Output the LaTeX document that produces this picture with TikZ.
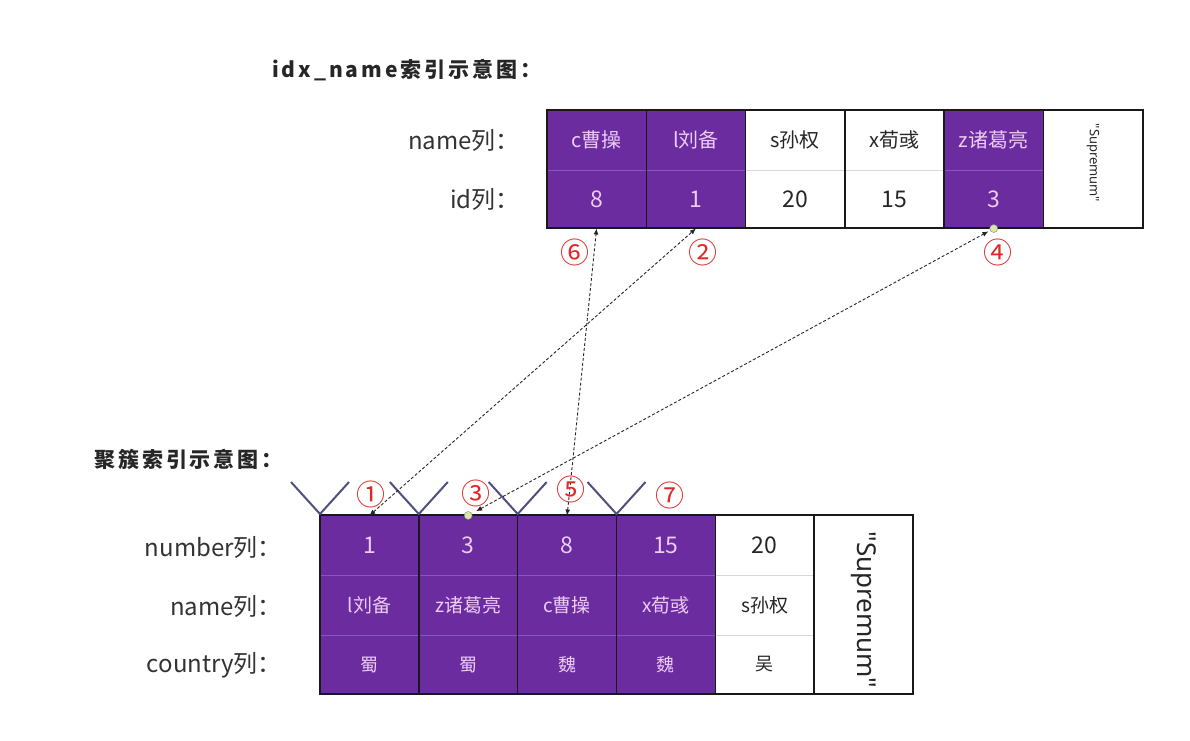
\documentclass[tikz,border=0pt]{standalone}
\usepackage{fontspec}
\setmainfont{Noto Sans CJK SC}
\newfontfamily\titlefont{Noto Sans CJK SC}[LetterSpace=14]
\newfontfamily\latinfont{Noto Sans}
\usetikzlibrary{arrows.meta}
\definecolor{pur}{HTML}{6A2C9E}
\definecolor{ptext}{HTML}{ECCBF5}
\definecolor{pdiv}{HTML}{8458BC}
\definecolor{vcol}{HTML}{4F4F80}
\definecolor{circred}{HTML}{E02828}
\definecolor{lblcol}{HTML}{333333}
\definecolor{gdot}{HTML}{D9E6A6}
\newcommand\myfs[1]{\fontsize{#1}{#1}\selectfont}
\begin{document}
\begin{tikzpicture}[x=1pt,y=-1pt,
  cellbase/.style={minimum width=99.2pt, minimum height=59pt, inner sep=0pt, outer sep=0pt},
  pcell/.style={cellbase, fill=pur, text=ptext},
  wcell/.style={cellbase, fill=white, text=black!85},
  lbl/.style={anchor=east, text=lblcol, font=\myfs{24}, inner sep=0pt},
  circ/.style={text=circred, font=\myfs{29}, inner sep=0pt},
  conn/.style={densely dashed, line width=0.9pt, black!85, {Latex[length=6pt,width=5pt]}-{Latex[length=6pt,width=5pt]}},
  vline/.style={vcol, line width=2pt},
  gdotst/.style={circle, fill=gdot, draw=black!50, line width=0.4pt, inner sep=0pt, minimum size=8pt},
  ttl/.style={anchor=west, inner sep=0pt, font=\titlefont\bfseries\myfs{21}, text=black!85}
]
\useasboundingbox (0,0) rectangle (1190,740);

% titles
\node[ttl] (title1) at (272,70) {idx\_name索引示意图：};
\node[ttl] (title2) at (94,459) {聚簇索引示意图：};

% ---------- top table ----------
\node[pcell, font=\myfs{20}] (tn1) at (596.6,140) {c曹操};
\node[pcell, font=\myfs{20}] (tn2) at (695.9,140) {l刘备};
\node[wcell, font=\myfs{20}] (tn3) at (795.2,140) {s孙权};
\node[wcell, font=\myfs{20}] (tn4) at (894.4,140) {x荀彧};
\node[pcell, font=\myfs{20}] (tn5) at (993.7,140) {z诸葛亮};
\node[pcell, font=\myfs{23}] (ti1) at (596.6,199) {8};
\node[pcell, font=\myfs{23}] (ti2) at (695.9,199) {1};
\node[wcell, font=\myfs{23}] (ti3) at (795.2,199) {20};
\node[wcell, font=\myfs{23}] (ti4) at (894.4,199) {15};
\node[pcell, font=\myfs{23}] (ti5) at (993.7,199) {3};
\node[rotate=-90, font=\latinfont\myfs{13}, text=black!85, inner sep=0pt] (tsup) at (1093,163) {"Supremum"};

\draw[pdiv, line width=0.8pt] (547,170) -- (745.5,170) (944,170) -- (1043.4,170);
\draw[black!15, line width=0.8pt] (745.5,170) -- (944,170);
\draw[black!90, line width=1.5pt] (646.3,110) -- (646.3,228) (745.5,110) -- (745.5,228)
  (844.8,110) -- (844.8,228) (944,110) -- (944,228) (1043.4,110) -- (1043.4,228);
\draw[black!90, line width=2pt] (547,110) rectangle (1142.6,228);

\node[lbl] (lname1) at (520,140) {name列：};
\node[lbl] (lid1) at (520,199) {id列：};

% ---------- bottom table ----------
\node[pcell, font=\myfs{23}] (bn1) at (369.4,545) {1};
\node[pcell, font=\myfs{23}] (bn2) at (468.2,545) {3};
\node[pcell, font=\myfs{23}] (bn3) at (567.1,545) {8};
\node[pcell, font=\myfs{23}] (bn4) at (665.9,545) {15};
\node[wcell, font=\myfs{23}] (bn5) at (764.7,545) {20};
\node[pcell, font=\myfs{19}] (bm1) at (369.4,605) {l刘备};
\node[pcell, font=\myfs{19}] (bm2) at (468.2,605) {z诸葛亮};
\node[pcell, font=\myfs{19}] (bm3) at (567.1,605) {c曹操};
\node[pcell, font=\myfs{19}] (bm4) at (665.9,605) {x荀彧};
\node[wcell, font=\myfs{19}] (bm5) at (764.7,605) {s孙权};
\node[pcell, font=\myfs{18}] (bc1) at (369.4,664.5) {蜀};
\node[pcell, font=\myfs{18}] (bc2) at (468.2,664.5) {蜀};
\node[pcell, font=\myfs{18}] (bc3) at (567.1,664.5) {魏};
\node[pcell, font=\myfs{18}] (bc4) at (665.9,664.5) {魏};
\node[wcell, font=\myfs{18}] (bc5) at (764.7,664.5) {吴};
\node[rotate=-90, font=\latinfont\myfs{26}, text=black!85, inner sep=0pt] (bsup) at (863.6,610) {"Supremum"};

\draw[pdiv, line width=0.8pt] (320,575) -- (715.3,575) (320,635) -- (715.3,635);
\draw[black!15, line width=0.8pt] (715.3,575) -- (814.2,575) (715.3,635) -- (814.2,635);
\draw[black!90, line width=1.5pt] (418.8,515) -- (418.8,694) (517.7,515) -- (517.7,694)
  (616.5,515) -- (616.5,694) (715.3,515) -- (715.3,694) (814.2,515) -- (814.2,694);
\draw[black!90, line width=2pt] (320,515) rectangle (913,694);

\node[lbl] (lnum) at (282,547) {number列：};
\node[lbl] (lname2) at (282,606) {name列：};
\node[lbl] (lcty) at (282,665) {country列：};

% V marks
\foreach \vx in {320,418.8,517.7,616.5}{
  \draw[vline, line join=miter] (\vx-29,482) -- (\vx,514) -- (\vx+29,482);
}

% connectors
\draw[conn] (bn1.north) -- (ti2.south);
\draw[conn, shorten <=9pt, shorten >=6pt] (bn2.north) -- (ti5.south);
\draw[conn] (bn3.north) -- (ti1.south);
\node[gdotst] (g1) at (bn2.north) {};
\node[gdotst] (g2) at (ti5.south) {};

% step numbers
\node[circ] (c1) at (371,494) {①};
\node[circ] (c2) at (703,252) {②};
\node[circ] (c3) at (476,493) {③};
\node[circ] (c4) at (998,252) {④};
\node[circ] (c5) at (571,489) {⑤};
\node[circ] (c6) at (575,252) {⑥};
\node[circ] (c7) at (670,495) {⑦};
\end{tikzpicture}
\end{document}
